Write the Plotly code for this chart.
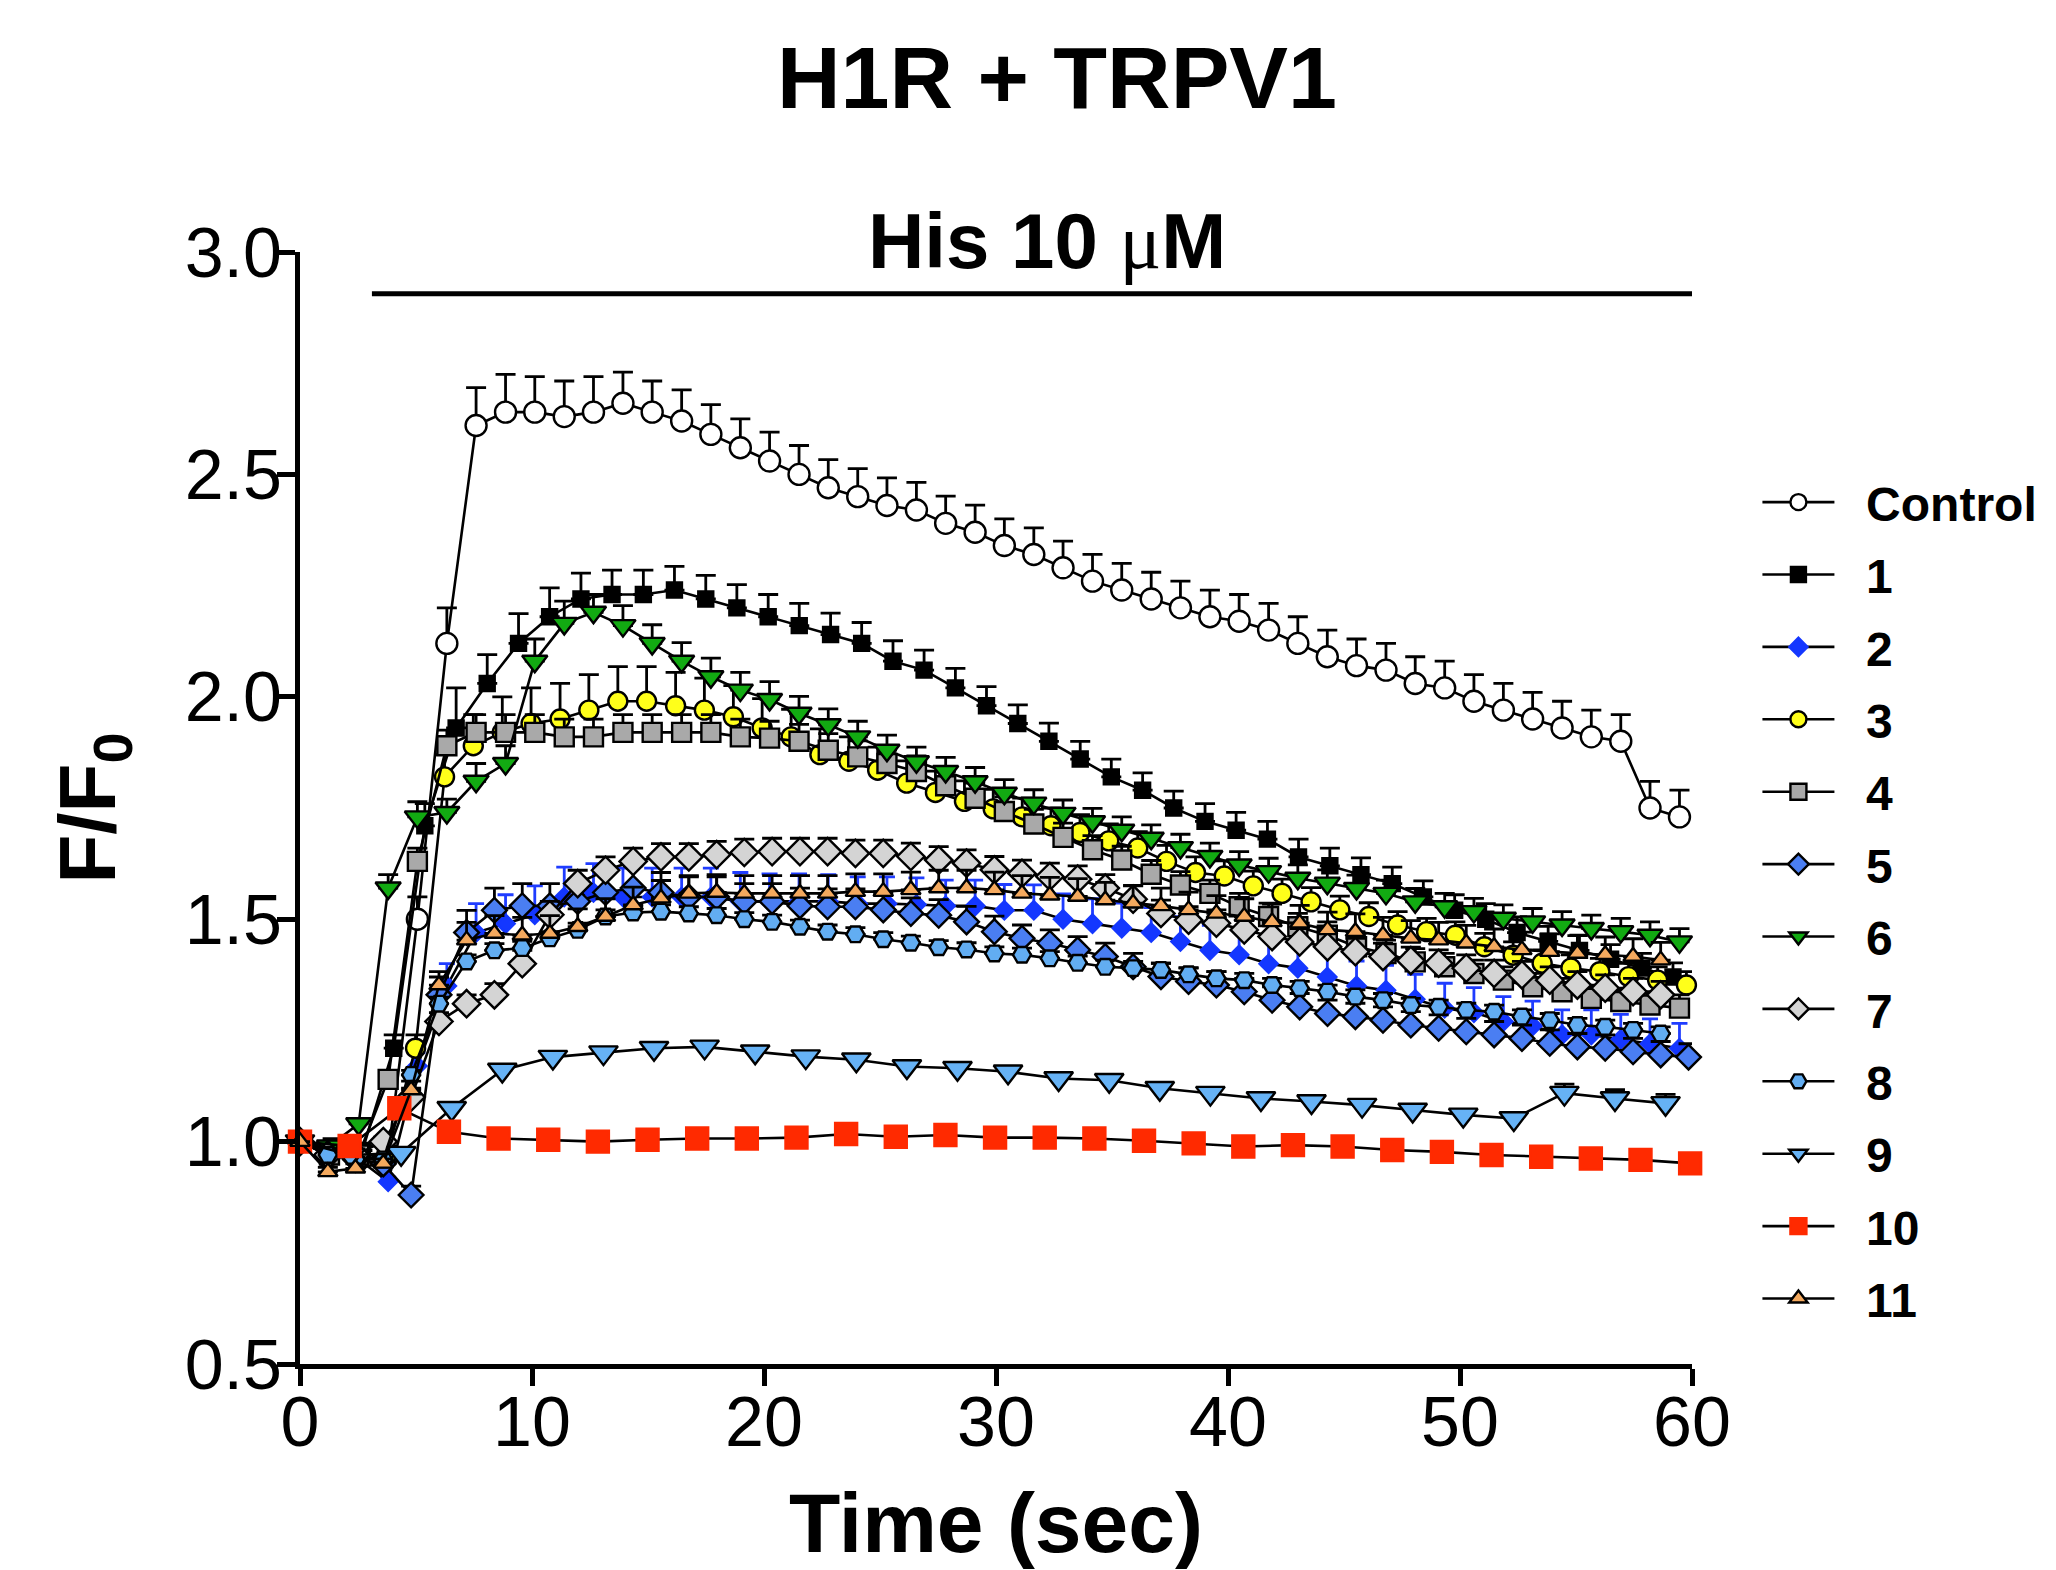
import plotly.graph_objects as go

FONT = "Liberation Sans, Arial, Helvetica, sans-serif"

# --- time stamps (s); each recording ran at its own frame interval -----------
t_a = [0.00, 1.27, 2.53, 3.80, 5.06, 6.33, 7.59, 8.86, 10.12, 11.39, 12.65, 13.92,
       15.18, 16.45, 17.71, 18.98, 20.24, 21.51, 22.77, 24.04, 25.30, 26.57, 27.83,
       29.10, 30.36, 31.63, 32.89, 34.16, 35.42, 36.69, 37.95, 39.22, 40.48, 41.75,
       43.01, 44.28, 45.54, 46.81, 48.07, 49.34, 50.60, 51.87, 53.13, 54.40, 55.66,
       56.93, 58.19, 59.46]
t_b = [0.00, 1.25, 2.49, 3.74, 4.98, 6.23, 7.47, 8.72, 9.96, 11.21, 12.45, 13.70,
       14.94, 16.19, 17.43, 18.68, 19.92, 21.17, 22.41, 23.66, 24.90, 26.15, 27.39,
       28.64, 29.88, 31.13, 32.37, 33.62, 34.86, 36.11, 37.35, 38.60, 39.84, 41.09,
       42.33, 43.58, 44.82, 46.07, 47.31, 48.56, 49.80, 51.05, 52.29, 53.54, 54.78,
       56.03, 57.27, 58.52, 59.76]
t_c = [0.00, 1.35, 2.69, 4.04, 5.38, 6.73, 8.07, 9.42, 10.76, 12.11, 13.45, 14.80,
       16.14, 17.49, 18.83, 20.18, 21.52, 22.87, 24.21, 25.56, 26.90, 28.25, 29.59,
       30.94, 32.28, 33.63, 34.97, 36.32, 37.66, 39.01, 40.35, 41.70, 43.04, 44.39,
       45.73, 47.08, 48.42, 49.77, 51.11, 52.46, 53.80, 55.15, 56.49, 57.84, 59.18]
t_d = [0.00, 1.20, 2.39, 3.59, 4.79, 5.99, 7.18, 8.38, 9.58, 10.77, 11.97, 13.17,
       14.36, 15.56, 16.76, 17.96, 19.15, 20.35, 21.55, 22.74, 23.94, 25.14, 26.33,
       27.53, 28.73, 29.93, 31.12, 32.32, 33.52, 34.71, 35.91, 37.11, 38.30, 39.50,
       40.70, 41.90, 43.09, 44.29, 45.49, 46.68, 47.88, 49.08, 50.27, 51.47, 52.67,
       53.87, 55.06, 56.26, 57.46, 58.65, 59.85]
t_e = [0.00, 1.20, 2.39, 3.59, 4.79, 5.99, 7.18, 8.38, 9.58, 10.77, 11.97, 13.17,
       14.36, 15.56, 16.76, 17.96, 19.15, 20.35, 21.55, 22.74, 23.94, 25.14, 26.33,
       27.53, 28.73, 29.93, 31.12, 32.32, 33.52, 34.71, 35.91, 37.11, 38.30, 39.50,
       40.70, 41.90, 43.09, 44.29, 45.49, 46.68, 47.88, 49.08, 50.27, 51.47, 52.67,
       53.87, 55.06, 56.26, 57.46, 58.65]
t_f = [0.00, 2.18, 4.36, 6.54, 8.72, 10.90, 13.08, 15.26, 17.44, 19.62, 21.80, 23.98,
       26.16, 28.34, 30.52, 32.70, 34.88, 37.06, 39.24, 41.42, 43.60, 45.78, 47.96,
       50.14, 52.32, 54.50, 56.68, 58.86]
t_g = [0.00, 2.14, 4.28, 6.42, 8.56, 10.70, 12.84, 14.98, 17.12, 19.26, 21.40, 23.54,
       25.68, 27.82, 29.96, 32.10, 34.24, 36.38, 38.52, 40.66, 42.80, 44.94, 47.08,
       49.22, 51.36, 53.50, 55.64, 57.78, 59.92]

# --- F/F0 means and SEM -------------------------------------------------------
f_ctrl = [1.00, 0.97, 0.96, 0.97, 1.50, 2.12, 2.61, 2.64, 2.64, 2.63, 2.64, 2.66,
          2.64, 2.62, 2.59, 2.56, 2.53, 2.50, 2.47, 2.45, 2.43, 2.42, 2.39, 2.37,
          2.34, 2.32, 2.29, 2.26, 2.24, 2.22, 2.20, 2.18, 2.17, 2.15, 2.12, 2.09,
          2.07, 2.06, 2.03, 2.02, 1.99, 1.97, 1.95, 1.93, 1.91, 1.90, 1.75, 1.73]
sem_ctrl = [0, 0.02, 0.02, 0.02, 0.05, 0.08, 0.085, 0.085, 0.08, 0.08, 0.08, 0.07,
            0.07, 0.07, 0.067, 0.065, 0.065, 0.065, 0.063, 0.063, 0.062, 0.062, 0.061,
            0.061, 0.06, 0.06, 0.06, 0.06, 0.06, 0.06, 0.06, 0.06, 0.06, 0.06, 0.06,
            0.06, 0.06, 0.06, 0.06, 0.06, 0.06, 0.06, 0.06, 0.06, 0.06, 0.06, 0.06, 0.06]

f_1 = [1.00, 0.99, 0.98, 1.21, 1.71, 1.93, 2.03, 2.12, 2.18, 2.22, 2.23, 2.23, 2.24,
       2.22, 2.20, 2.18, 2.16, 2.14, 2.12, 2.08, 2.06, 2.02, 1.98, 1.94, 1.90, 1.86,
       1.82, 1.79, 1.75, 1.72, 1.70, 1.68, 1.64, 1.62, 1.60, 1.58, 1.55, 1.52, 1.50,
       1.47, 1.45, 1.43, 1.41, 1.39, 1.37]
sem_1 = [0, 0.01, 0.01, 0.03, 0.05, 0.09, 0.065, 0.067, 0.065, 0.058, 0.055, 0.055,
         0.053, 0.053, 0.052, 0.05, 0.05, 0.048, 0.047, 0.046, 0.045, 0.044, 0.043,
         0.042, 0.041, 0.04, 0.04, 0.039, 0.038, 0.04, 0.04, 0.04, 0.04, 0.04, 0.038,
         0.037, 0.036, 0.035, 0.035, 0.035, 0.034, 0.034, 0.033, 0.033, 0.032]

f_2 = [1.00, 0.97, 0.96, 0.91, 1.17, 1.35, 1.47, 1.49, 1.51, 1.55, 1.56, 1.55, 1.55,
       1.55, 1.55, 1.54, 1.54, 1.54, 1.54, 1.535, 1.535, 1.533, 1.53, 1.53, 1.52, 1.52,
       1.50, 1.49, 1.48, 1.47, 1.45, 1.43, 1.42, 1.40, 1.39, 1.37, 1.35, 1.34, 1.32,
       1.30, 1.29, 1.27, 1.26, 1.24, 1.24, 1.23, 1.22, 1.21]
sem_2 = [0, 0.01, 0.01, 0.01, 0.03, 0.05, 0.065, 0.065, 0.065, 0.067, 0.065, 0.065,
         0.065, 0.065, 0.065, 0.065, 0.062, 0.062, 0.06, 0.06, 0.06, 0.06, 0.058, 0.058,
         0.058, 0.057, 0.057, 0.056, 0.056, 0.056, 0.056, 0.056, 0.056, 0.056, 0.056,
         0.056, 0.056, 0.056, 0.056, 0.056, 0.056, 0.056, 0.056, 0.056, 0.056, 0.056,
         0.056, 0.056]

f_3 = [1.00, 0.98, 0.97, 0.97, 1.21, 1.82, 1.89, 1.92, 1.94, 1.95, 1.97, 1.99, 1.99,
       1.98, 1.97, 1.955, 1.93, 1.91, 1.87, 1.855, 1.835, 1.806, 1.785, 1.765, 1.748,
       1.73, 1.71, 1.695, 1.676, 1.66, 1.63, 1.605, 1.597, 1.575, 1.558, 1.539, 1.521,
       1.506, 1.487, 1.472, 1.464, 1.438, 1.419, 1.401, 1.39, 1.382, 1.371, 1.363, 1.352]
sem_3 = [0, 0.01, 0.01, 0.01, 0.03, 0.05, 0.07, 0.08, 0.08, 0.08, 0.08, 0.078, 0.078,
         0.075, 0.072, 0.07, 0.066, 0.062, 0.058, 0.055, 0.052, 0.05, 0.048, 0.046,
         0.044, 0.042, 0.04, 0.04, 0.038, 0.037, 0.036, 0.035, 0.034, 0.033, 0.032,
         0.032, 0.031, 0.031, 0.03, 0.03, 0.03, 0.03, 0.03, 0.03, 0.03, 0.03, 0.03,
         0.03, 0.03]

f_4 = [1.00, 0.97, 0.97, 1.14, 1.63, 1.89, 1.92, 1.92, 1.92, 1.91, 1.91, 1.92, 1.92,
       1.92, 1.92, 1.91, 1.907, 1.90, 1.88, 1.865, 1.85, 1.832, 1.80, 1.772, 1.742,
       1.714, 1.684, 1.656, 1.633, 1.601, 1.577, 1.558, 1.528, 1.506, 1.483, 1.464,
       1.438, 1.423, 1.404, 1.393, 1.378, 1.363, 1.348, 1.337, 1.322, 1.315, 1.307, 1.30]
sem_4 = [0, 0.01, 0.01, 0.02, 0.03, 0.035, 0.04, 0.04, 0.04, 0.04, 0.04, 0.04, 0.04,
         0.04, 0.04, 0.04, 0.038, 0.038, 0.037, 0.036, 0.035, 0.035, 0.034, 0.034,
         0.033, 0.033, 0.032, 0.032, 0.031, 0.031, 0.03, 0.03, 0.03, 0.03, 0.03, 0.03,
         0.03, 0.03, 0.03, 0.03, 0.03, 0.03, 0.03, 0.03, 0.03, 0.03, 0.03, 0.03]

f_5 = [1.00, 0.97, 0.96, 0.95, 0.88, 1.33, 1.47, 1.52, 1.53, 1.53, 1.54, 1.56, 1.57,
       1.56, 1.55, 1.55, 1.54, 1.54, 1.53, 1.528, 1.528, 1.521, 1.513, 1.509, 1.494,
       1.472, 1.457, 1.446, 1.431, 1.416, 1.393, 1.371, 1.36, 1.352, 1.337, 1.318,
       1.303, 1.288, 1.281, 1.273, 1.262, 1.255, 1.247, 1.24, 1.232, 1.221, 1.213,
       1.21, 1.202, 1.195, 1.19]
sem_5 = [0, 0.01, 0.01, 0.01, 0.02, 0.04, 0.05, 0.05, 0.05, 0.05, 0.05, 0.05, 0.05,
         0.045, 0.045, 0.045, 0.04, 0.04, 0.04, 0.04, 0.04, 0.035, 0.035, 0.035, 0.035,
         0.035, 0.03, 0.03, 0.03, 0.03, 0.03, 0.03, 0.03, 0.03, 0.03, 0.03, 0.03, 0.03,
         0.03, 0.03, 0.03, 0.03, 0.03, 0.03, 0.03, 0.03, 0.03, 0.03, 0.03, 0.03, 0.03]

f_6 = [1.00, 0.99, 1.04, 1.57, 1.73, 1.74, 1.81, 1.85, 2.08, 2.165, 2.19, 2.16, 2.12,
       2.08, 2.045, 2.015, 1.994, 1.963, 1.937, 1.91, 1.88, 1.854, 1.832, 1.809, 1.783,
       1.761, 1.738, 1.719, 1.70, 1.682, 1.661, 1.641, 1.622, 1.607, 1.592, 1.581,
       1.569, 1.558, 1.539, 1.528, 1.517, 1.502, 1.494, 1.487, 1.479, 1.472, 1.464, 1.449]
sem_6 = [0, 0.01, 0.01, 0.03, 0.034, 0.03, 0.04, 0.04, 0.05, 0.05, 0.04, 0.045, 0.042,
         0.042, 0.042, 0.04, 0.04, 0.038, 0.036, 0.035, 0.034, 0.033, 0.032, 0.032,
         0.031, 0.03, 0.03, 0.03, 0.03, 0.03, 0.03, 0.03, 0.03, 0.03, 0.03, 0.03, 0.03,
         0.03, 0.03, 0.03, 0.03, 0.03, 0.03, 0.03, 0.03, 0.03, 0.03, 0.03]

f_7 = [1.00, 0.97, 0.97, 1.00, 1.10, 1.27, 1.31, 1.33, 1.40, 1.51, 1.58, 1.61, 1.63,
       1.64, 1.64, 1.645, 1.65, 1.652, 1.652, 1.652, 1.648, 1.648, 1.641, 1.633, 1.626,
       1.611, 1.603, 1.596, 1.59, 1.57, 1.545, 1.513, 1.498, 1.491, 1.476, 1.461, 1.449,
       1.438, 1.427, 1.416, 1.407, 1.401, 1.39, 1.378, 1.375, 1.363, 1.352, 1.345,
       1.337, 1.33]
sem_7 = [0, 0.01, 0.01, 0.01, 0.02, 0.02, 0.02, 0.025, 0.03, 0.03, 0.03, 0.03, 0.03,
         0.03, 0.03, 0.03, 0.03, 0.03, 0.03, 0.03, 0.03, 0.03, 0.03, 0.03, 0.03, 0.03,
         0.03, 0.03, 0.03, 0.03, 0.03, 0.03, 0.03, 0.03, 0.03, 0.03, 0.03, 0.03, 0.03,
         0.03, 0.03, 0.03, 0.03, 0.03, 0.03, 0.03, 0.03, 0.03, 0.03, 0.03]

f_8 = [1.00, 0.97, 0.96, 0.96, 1.15, 1.31, 1.405, 1.43, 1.435, 1.457, 1.476, 1.506,
       1.515, 1.517, 1.513, 1.509, 1.50, 1.494, 1.483, 1.472, 1.466, 1.455, 1.447,
       1.437, 1.432, 1.423, 1.42, 1.412, 1.402, 1.393, 1.39, 1.386, 1.376, 1.367,
       1.363, 1.352, 1.345, 1.337, 1.326, 1.318, 1.307, 1.303, 1.296, 1.292, 1.281,
       1.273, 1.262, 1.258, 1.251, 1.243]
sem_8 = [0, 0.005, 0.005, 0.005, 0.01, 0.015, 0.015, 0.015, 0.015, 0.015, 0.015,
         0.015, 0.015, 0.015, 0.015, 0.015, 0.015, 0.015, 0.015, 0.015, 0.015, 0.015,
         0.015, 0.015, 0.015, 0.015, 0.015, 0.015, 0.015, 0.015, 0.015, 0.015, 0.015,
         0.015, 0.015, 0.015, 0.015, 0.015, 0.015, 0.015, 0.015, 0.015, 0.015, 0.015,
         0.015, 0.015, 0.015, 0.015, 0.015, 0.015]

f_9 = [1.00, 0.97, 0.974, 1.075, 1.161, 1.19, 1.20, 1.21, 1.213, 1.202, 1.191, 1.184,
       1.169, 1.165, 1.157, 1.142, 1.138, 1.12, 1.109, 1.097, 1.09, 1.082, 1.071, 1.06,
       1.052, 1.109, 1.097, 1.086]
sem_9 = [0, 0.005, 0.005, 0.01, 0.01, 0.01, 0.01, 0.01, 0.01, 0.01, 0.01, 0.01, 0.01,
         0.01, 0.01, 0.01, 0.01, 0.01, 0.01, 0.01, 0.01, 0.01, 0.01, 0.01, 0.01, 0.02,
         0.02, 0.02]

f_10 = [1.00, 0.99, 1.075, 1.022, 1.007, 1.004, 1.00, 1.004, 1.007, 1.007, 1.009,
        1.017, 1.011, 1.015, 1.009, 1.009, 1.007, 1.002, 0.996, 0.989, 0.992, 0.989,
        0.981, 0.977, 0.97, 0.966, 0.962, 0.959, 0.951]

f_11 = [1.00, 0.932, 0.94, 0.951, 1.116, 1.352, 1.453, 1.468, 1.464, 1.468, 1.483,
        1.506, 1.532, 1.547, 1.558, 1.56, 1.558, 1.558, 1.558, 1.558, 1.562, 1.562,
        1.566, 1.57, 1.57, 1.566, 1.558, 1.554, 1.551, 1.543, 1.536, 1.53, 1.521, 1.513,
        1.506, 1.494, 1.491, 1.476, 1.472, 1.464, 1.457, 1.453, 1.446, 1.438, 1.431,
        1.427, 1.423, 1.42, 1.416, 1.408]
sem_11 = [0, 0.01, 0.01, 0.01, 0.02, 0.03, 0.04, 0.04, 0.04, 0.04, 0.04, 0.04, 0.04,
          0.04, 0.04, 0.04, 0.04, 0.04, 0.04, 0.04, 0.04, 0.04, 0.04, 0.04, 0.04, 0.04,
          0.04, 0.04, 0.04, 0.04, 0.04, 0.04, 0.04, 0.04, 0.04, 0.04, 0.04, 0.04, 0.04,
          0.04, 0.04, 0.04, 0.04, 0.04, 0.04, 0.04, 0.04, 0.04, 0.04, 0.04]

# histamine application bar
his_t = [3.1, 60.0]
his_f = [2.906, 2.906]

x_ticks = [0, 10, 20, 30, 40, 50, 60]
y_ticks = [0.5, 1.0, 1.5, 2.0, 2.5, 3.0]

# name, time, mean, sem, symbol, size, fill, edge, error colour
series = [
    ("Control", t_a, f_ctrl, sem_ctrl, "circle", 21, "white", "black", "black"),
    ("1", t_c, f_1, sem_1, "square", 15, "black", "black", "black"),
    ("2", t_a, f_2, sem_2, "diamond", 14, "#1437ff", "#1437ff", "#1f3cff"),
    ("3", t_b, f_3, sem_3, "circle", 19, "#ffff1a", "black", "black"),
    ("4", t_a, f_4, sem_4, "square", 19, "#a9a9a9", "black", "black"),
    ("5", t_d, f_5, sem_5, "diamond", 19, "#4a7ef2", "black", "black"),
    ("6", t_a, f_6, sem_6, "triangle-down", 22, "#12aa12", "black", "black"),
    ("7", t_e, f_7, sem_7, "diamond", 21, "#d4d4d4", "black", "black"),
    ("8", t_e, f_8, sem_8, "hexagon2", 18, "#62adf2", "black", "black"),
    ("9", t_f, f_9, sem_9, "triangle-down", 25, "#66b2f5", "black", "black"),
    ("10", t_g, f_10, None, "square", 22, "#ff2a00", "#ff2a00", "black"),
    ("11", t_e, f_11, sem_11, "triangle-up", 17, "#f4a95e", "black", "black"),
]

fig = go.Figure()

for name, t, f, sem, symbol, size, fill, edge, ecol in series:
    assert len(t) == len(f), name
    err = None
    if sem is not None:
        assert len(sem) == len(f), name
        err = dict(type="data", array=sem, symmetric=False, arrayminus=[0] * len(sem),
                   color=ecol, thickness=2.8, width=10 if name != "2" else 8)
    fig.add_trace(go.Scatter(
        x=t, y=f, name="\u00a0\u00a0" + name, mode="lines+markers",
        line=dict(color="black", width=2.6),
        marker=dict(symbol=symbol, size=size, color=fill,
                    line=dict(color=edge, width=2.4)),
        error_y=err, cliponaxis=False, legendgroup=name,
    ))

fig.add_trace(go.Scatter(
    x=his_t, y=his_f, mode="lines", line=dict(color="black", width=5),
    showlegend=False, hoverinfo="skip",
))

fig.add_annotation(text="<b>H1R + TRPV1</b>", xref="paper", yref="paper",
                   x=0.5438, y=1.157, xanchor="center", yanchor="middle",
                   showarrow=False, font=dict(size=88, color="black"))
fig.add_annotation(
    text="<b>His 10 <span style='font-family:Liberation Serif;font-weight:normal'>μ</span>M</b>",
    xref="paper", yref="paper", x=0.5366, y=1.010, xanchor="center", yanchor="middle",
    showarrow=False, font=dict(size=78, color="black"))

axis_common = dict(
    showline=True, linewidth=5, linecolor="black", showgrid=False, zeroline=False,
    ticks="outside", tickwidth=4.5, tickcolor="black",
    tickfont=dict(size=70, color="black", family=FONT),
)

fig.update_layout(
    width=2056, height=1570,
    paper_bgcolor="white", plot_bgcolor="white",
    font=dict(family=FONT, color="black"),
    margin=dict(l=300, r=364, t=252, b=206),
    showlegend=True,
    legend=dict(
        x=1.047, y=0.809, xanchor="left", yanchor="top",
        font=dict(size=48, color="black", family=FONT, weight="bold"),
        traceorder="grouped", tracegroupgap=7, itemwidth=72,
        bgcolor="rgba(0,0,0,0)",
    ),
    xaxis=dict(range=[0, 60], tickvals=x_ticks, ticklen=17, ticklabelstandoff=-24,
               title=dict(text="<b>Time (sec)</b>", font=dict(size=84), standoff=36),
               **axis_common),
    yaxis=dict(range=[0.5, 3.0], tickvals=y_ticks, tickformat=".1f", ticklen=18,
               ticklabelstandoff=-19,
               title=dict(text="<b>F/F<sub>0</sub></b>", font=dict(size=80), standoff=44),
               **axis_common),
)

fig.write_html("out.html", config={"displayModeBar": False},
               post_script="document.body.style.margin='0';")
